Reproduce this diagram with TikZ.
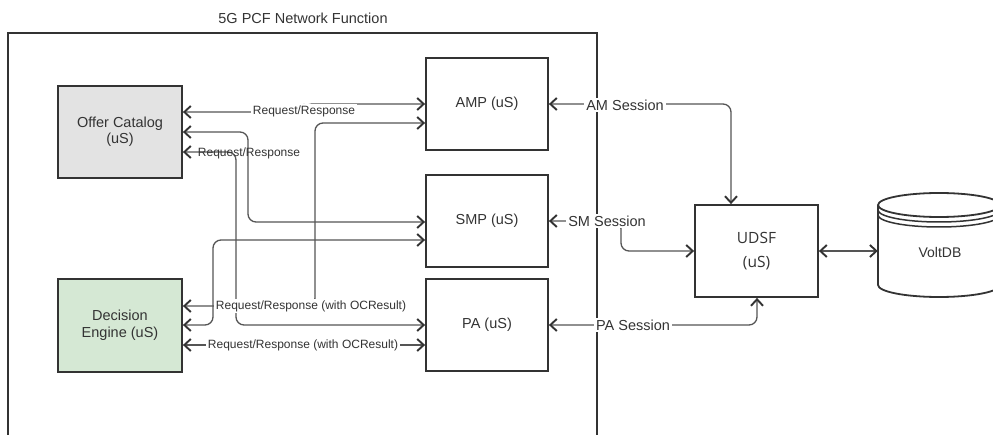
\documentclass[tikz,border=0pt]{standalone}
\usepackage{fontspec}
\setmainfont{Liberation Sans}
\newfontfamily\udsffont{Open Sans}
\usetikzlibrary{arrows.meta}
\definecolor{boxline}{HTML}{333333}
\definecolor{wire}{HTML}{555555}
\definecolor{txt}{HTML}{333333}
\definecolor{catfill}{HTML}{E3E3E3}
\definecolor{decfill}{HTML}{D5E8D4}
\tikzset{
  barb/.tip={Straight Barb[length=6.5pt,width=12pt,line width=1.9pt,color=boxline]},
  svc/.style={draw=boxline, line width=1.8pt, minimum width=122pt, minimum height=92pt,
    inner sep=0pt, align=center, text=txt, font=\fontsize{14.5}{16.5}\selectfont},
  wirelink/.style={draw=wire, line width=1.3pt, rounded corners=8pt, {barb}-{barb}},
  lbl/.style={fill=white, inner sep=1.5pt, text=txt, font=\fontsize{12}{14}\selectfont},
  sesslbl/.style={fill=white, inner sep=2pt, text=txt, font=\fontsize{14.5}{16}\selectfont},
  frameline/.style={draw=boxline, line width=1.8pt},
}
\begin{document}
\begin{tikzpicture}[x=1pt,y=-1pt]
\useasboundingbox (0,0) rectangle (993,435);

% network function frame and its title
\draw[frameline] (8,435) -- (8,33) -- (597,33) -- (597,435);
\node[text=txt, font=\fontsize{14.5}{16}\selectfont] (title) at (303,18) {5G PCF Network Function};

% services
\node[svc, fill=catfill, minimum width=124pt] (oc) at (120,132) {Offer Catalog\\(uS)};
\node[svc, fill=decfill, minimum width=124pt, minimum height=93pt] (de) at (120,325.5) {Decision\\Engine (uS)};
\node[svc] (amp) at (487,104) {AMP (uS)};
\node[svc] (smp) at (487,221) {SMP (uS)};
\node[svc] (pa) at (487,325) {PA (uS)};
\node[svc, minimum width=123pt, font=\udsffont\fontsize{15.5}{24}\selectfont] (udsf) at (756.5,251) {UDSF\\(uS)};

% VoltDB data store
\draw[frameline, fill=white] (878,205) -- (878,285)
  arc[start angle=180, end angle=0, x radius=61, y radius=12] -- (1000,205);
\draw[frameline, fill=white] (939,205) ellipse[x radius=61, y radius=12];
\draw[draw=boxline, line width=1.5pt] (878,210) arc[start angle=180, end angle=0, x radius=61, y radius=12];
\draw[draw=boxline, line width=1.5pt] (878,215) arc[start angle=180, end angle=0, x radius=61, y radius=12];
\node[minimum width=122pt, minimum height=104pt, inner sep=0pt] (volt) at (939,245) {};
\node[text=txt, font=\fontsize{14}{16}\selectfont] (voltlbl) at (940,252) {VoltDB};

% connectors inside the network function
\draw[wirelink] (oc.east |- 0,112) -- (304,112) -- (304,104) -- (amp.west |- 0,104);
\draw[wirelink] (oc.east |- 0,132) -- (248,132) -- (248,222) -- (smp.west |- 0,222);
\draw[wirelink] (oc.east |- 0,152) -- (236,152) -- (236,325) -- (pa.west |- 0,325);
\draw[wirelink] (de.east |- 0,306) -- (315,306) -- (315,123) -- (amp.west |- 0,123);
\draw[wirelink] (de.east |- 0,325) -- (213,325) -- (213,240) -- (smp.west |- 0,240);
\draw[wirelink] (de.east |- 0,345) -- (pa.west |- 0,345);

% sessions towards UDSF
\draw[wirelink] (amp.east) -- (731,104) -- (731,0 |- udsf.north);
\draw[wirelink] (smp.east) -- (621,221) -- (621,251) -- (udsf.west);
\draw[wirelink] (pa.east) -- (757,325) -- (757,0 |- udsf.south);
\draw[wirelink, rounded corners=0pt] (udsf.east) -- (volt.west |- udsf.east);

% connector labels
\node[lbl] (l1) at (304,111) {Request/Response};
\node[lbl, fill=none] (l3) at (249,153) {Request/Response};
\node[lbl] (l4) at (311,306) {Request/Response (with OCResult)};
\node[lbl] (l6) at (303,345) {Request/Response (with OCResult)};
\node[sesslbl] (s1) at (625,105) {AM Session};
\node[sesslbl] (s2) at (607,221) {SM Session};
\node[sesslbl] (s3) at (633,325) {PA Session};
\end{tikzpicture}
\end{document}
